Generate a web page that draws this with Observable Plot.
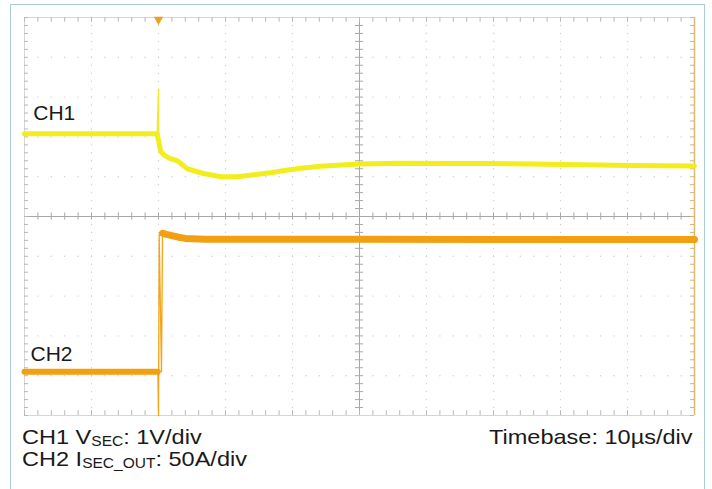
<!DOCTYPE html>
<html><head><meta charset="utf-8">
<script src="https://cdn.jsdelivr.net/npm/d3@7"></script>
<script src="https://cdn.jsdelivr.net/npm/@observablehq/plot@0.6"></script>
<style>
html,body{margin:0;padding:0;background:#fff;width:712px;height:489px;overflow:hidden;font-family:"Liberation Sans",Arial,sans-serif;}
#frame{position:absolute;left:10px;top:4px;width:695px;height:486px;border:1px solid #a9cdd9;box-sizing:border-box;}
#chart{position:absolute;left:0;top:0;}
.cap{position:absolute;font-size:21px;color:#1a1a1a;white-space:nowrap;line-height:21px;transform-origin:0 0;transform:scaleX(1.12);}
.cap sub{font-size:0.66em;vertical-align:-0.18em;line-height:0}
</style></head><body>
<div id="frame"></div>
<div id="chart"></div>
<div class="cap" style="left:22px;top:426px">CH1 V<sub>SEC</sub>: 1V/div</div>
<div class="cap" style="left:22px;top:448px">CH2 I<sub>SEC_OUT</sub>: 50A/div</div>
<div class="cap" style="left:489px;top:426px">Timebase: 10µs/div</div>
<script>
// Time axis in µs (10 µs/div, trigger at 0), vertical in screen divisions
const xMajor = [-20,-10,0,10,20,30,40,50,60,70,80];
const yMajor = [-5,-4,-3,-2,-1,0,1,2,3,4,5];
const xMinor = d3.range(-20, 80.01, 2);
const yMinor = d3.range(-5, 5.001, 0.2).map(v => +v.toFixed(2));

// CH1 (V_SEC), in divisions (1 V/div)
const ch1T = [-20, -0.2, 0.3, 0.8, 1.3, 1.8, 2.5, 3.0, 4.3, 6.7, 9.3, 11.8, 14.2, 16.7, 19.3, 21.6, 24.2, 30, 36, 43.6, 49.6, 55.5, 63, 70.4, 80];
const ch1V = [2.08, 2.08, 1.65, 1.55, 1.5, 1.45, 1.42, 1.38, 1.2, 1.08, 1.0, 1.0, 1.05, 1.1, 1.17, 1.22, 1.26, 1.32, 1.34, 1.33, 1.33, 1.32, 1.3, 1.28, 1.27];
// CH1 trigger spike
const ch1SpikeT = [-0.2, 0, 0.05, 0.3];
const ch1SpikeV = [2.08, 3.2, 1.9, 1.65];

// CH2 (I_SEC_OUT), in divisions (50 A/div): before and after the step
const ch2BeforeT = [-20, -0.1];
const ch2BeforeV = [-3.9, -3.9];
const ch2AfterT = [0.6, 0.8, 1.2, 2, 3, 4, 7, 10, 30, 60, 80];
const ch2AfterV = [-0.42, -0.43, -0.45, -0.48, -0.52, -0.55, -0.57, -0.57, -0.57, -0.58, -0.58];
// CH2 edge transient
const ch2EdgeT = [-0.1, 0, 0.1, 0.45, 0.6];
const ch2EdgeV = [-3.9, -5.0, -0.45, -3.9, -0.42];

const labels = ["CH1", "CH2"];
const triggerT = [0];

const ch1 = ch1T.map((t, i) => ({t, v: ch1V[i]}));
const ch1s = ch1SpikeT.map((t, i) => ({t, v: ch1SpikeV[i]}));
const ch2a = ch2BeforeT.map((t, i) => ({t, v: ch2BeforeV[i]}));
const ch2b = ch2AfterT.map((t, i) => ({t, v: ch2AfterV[i]}));
const ch2e = ch2EdgeT.map((t, i) => ({t, v: ch2EdgeV[i]}));

const gridPts = [];
xMajor.filter(x => x > -20 && x < 80 && x !== 30).forEach(x => yMinor.forEach(y => gridPts.push({x, y})));
yMajor.filter(y => y > -5 && y < 5 && y !== 0).forEach(y => xMinor.forEach(x => gridPts.push({x, y})));

const gridC = "#cdcdcd", axisC = "#a8a8a8";
const plot = Plot.plot({
  width: 712, height: 425,
  marginLeft: 24, marginRight: 18, marginTop: 17, marginBottom: 10,
  x: {domain: [-20, 80], axis: null},
  y: {domain: [-5, 5], axis: null},
  style: {background: "transparent", fontFamily: "Liberation Sans, Arial, sans-serif"},
  marks: [
    Plot.dot(gridPts, {x: "x", y: "y", r: 0.7, fill: gridC}),
    // center cross
    Plot.ruleX([30], {stroke: axisC, strokeWidth: 1}),
    Plot.ruleY([0], {stroke: axisC, strokeWidth: 1}),
    Plot.ruleX(xMinor, {x: d => d, y1: -0.09, y2: 0.09, stroke: axisC}),
    Plot.ruleY(yMinor, {y: d => d, x1: 29.4, x2: 30.6, stroke: axisC}),
    // frame edges with ticks
    Plot.ruleY([5, -5], {stroke: "#d6d6d6"}),
    Plot.ruleX([-20], {stroke: "#d6d6d6"}),
    Plot.ruleX(xMinor, {x: d => d, y1: 4.88, y2: 5, stroke: "#b8b8b8"}),
    Plot.ruleX(xMinor, {x: d => d, y1: -5, y2: -4.88, stroke: "#b8b8b8"}),
    Plot.ruleY(yMinor, {y: d => d, x1: -20, x2: -19.4, stroke: "#b8b8b8"}),
    Plot.ruleY(yMinor, {y: d => d, x1: 79.4, x2: 80, stroke: "#d9b46e"}),
    Plot.ruleX([80], {stroke: "#dcb878", strokeWidth: 1.5}),
    // traces
    Plot.line(ch1s, {x: "t", y: "v", stroke: "#eeea28", strokeWidth: 1.3}),
    Plot.line(ch1, {x: "t", y: "v", stroke: "#f2ee1e", strokeWidth: 5, strokeLinejoin: "round"}),
    Plot.line(ch2e, {x: "t", y: "v", stroke: "#f2a51c", strokeWidth: 1.3}),
    Plot.line(ch2a, {x: "t", y: "v", stroke: "#f2a012", strokeWidth: 6}),
    Plot.line(ch2b, {x: "t", y: "v", stroke: "#f2a012", strokeWidth: 7, strokeLinejoin: "round"}),
    // trigger marker
    Plot.dot(triggerT, {x: d => d, y: () => 5, symbol: "triangle", rotate: 180, r: 3.5, fill: "#f0a020", dy: 2}),
    // channel labels
    Plot.text([labels[0]], {x: () => -18.7, y: () => 2.6, text: d => d, textAnchor: "start", fontSize: 21, fill: "#1a1a1a"}),
    Plot.text([labels[1]], {x: () => -19.1, y: () => -3.45, text: d => d, textAnchor: "start", fontSize: 21, fill: "#1a1a1a"})
  ]
});
document.getElementById("chart").appendChild(plot);
</script>
</body></html>
